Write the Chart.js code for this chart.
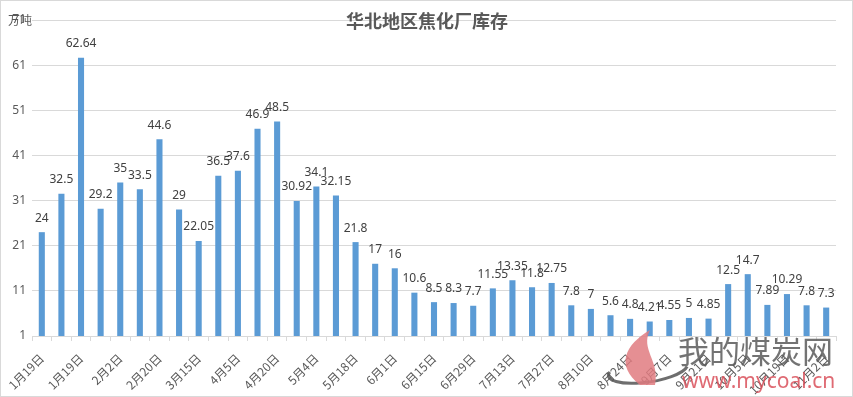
<!DOCTYPE html>
<html lang="zh-CN">
<head>
  <meta charset="UTF-8">
  <title>华北地区焦化厂库存</title>
  <script src="https://cdn.jsdelivr.net/npm/chart.js"></script>
  <style>
    body { margin: 0; background: #fff; }
    #wrap { width: 853px; height: 397px; }
  </style>
</head>
<body>
  <div id="wrap"><canvas id="chart"></canvas></div>
  <script>
    // every other bar carries a date label
    const tickLabels = ["1月19日", "1月19日", "2月2日", "2月20日", "3月15日", "4月5日", "4月20日",
      "5月4日", "5月18日", "6月1日", "6月15日", "6月29日", "7月13日", "7月27日", "8月10日",
      "8月24日", "9月7日", "9月21日", "10月5日", "10月19日", "11月2日"];
    const values = [24, 32.5, 62.64, 29.2, 35, 33.5, 44.6, 29, 22.05, 36.5, 37.6, 46.9, 48.5,
      30.92, 34.1, 32.15, 21.8, 17, 16, 10.6, 8.5, 8.3, 7.7, 11.55, 13.35, 11.8, 12.75, 7.8, 7,
      5.6, 4.8, 4.21, 4.55, 5, 4.85, 12.5, 14.7, 7.89, 10.29, 7.8, 7.3];
    const categories = values.map((v, i) => i % 2 === 0 ? tickLabels[i / 2] : "");
    const yMin = 1, yMax = 71, yStep = 10;

    const font = '"Noto Sans", "Noto Sans CJK SC", sans-serif';
    const cjk = '"Noto Sans CJK SC", sans-serif';

    const extras = {
      id: "extras",
      beforeDraw(chart) {
        const c = chart.ctx;
        c.save();
        c.fillStyle = "#fff";
        c.fillRect(0, 0, chart.width, chart.height);
        c.restore();
      },
      afterDatasetsDraw(chart) {
        const c = chart.ctx;
        const meta = chart.getDatasetMeta(0);
        c.save();
        c.fillStyle = "#404040";
        c.font = "12px " + font;
        c.textAlign = "center";
        c.textBaseline = "middle";
        meta.data.forEach((bar, i) => {
          c.fillText(String(values[i]), bar.x, bar.y - 14);
        });
        c.restore();
      },
      afterDraw(chart) {
        const c = chart.ctx;
        c.save();
        // title
        c.fillStyle = "#595959";
        c.font = "bold 18px " + cjk;
        c.textAlign = "center";
        c.textBaseline = "middle";
        c.fillText("华北地区焦化厂库存", 427, 21);
        // unit
        c.font = "12px " + cjk;
        c.textAlign = "left";
        c.fillText("万吨", 8, 20);
        // outer frame
        c.strokeStyle = "#d9d9d9";
        c.lineWidth = 1;
        c.strokeRect(0.5, 0.5, chart.width - 1, chart.height - 1);
        // watermark
        c.globalAlpha = 0.85;
        c.strokeStyle = "#555";
        c.lineWidth = 3;
        c.beginPath();
        c.ellipse(648, 370, 40, 12, -0.15, 0.2, Math.PI * 1.1);
        c.stroke();
        c.fillStyle = "#e07b80";
        c.beginPath();
        c.moveTo(640, 385);
        c.bezierCurveTo(615, 365, 625, 345, 650, 330);
        c.bezierCurveTo(640, 350, 660, 360, 655, 385);
        c.closePath();
        c.fill();
        c.fillStyle = "#5a5a5a";
        c.font = "31px " + cjk;
        c.textBaseline = "middle";
        c.fillText("我的煤炭网", 678, 351);
        c.fillStyle = "#d9505a";
        c.font = "21px " + font;
        c.fillText("www.mycoal.cn", 682, 382);
        c.restore();
      }
    };

    new Chart(document.getElementById("chart"), {
      type: "bar",
      data: {
        labels: categories,
        datasets: [{
          data: values,
          backgroundColor: "#5b9bd5",
          categoryPercentage: 1,
          barPercentage: 0.31
        }]
      },
      options: {
        responsive: true,
        maintainAspectRatio: false,
        animation: false,
        layout: { padding: { left: 0, top: 20, right: 17, bottom: 0 } },
        plugins: { legend: { display: false }, tooltip: { enabled: false } },
        scales: {
          x: {
            grid: { display: true, drawOnChartArea: false, offset: true, tickLength: 5, color: "#d9d9d9" },
            border: { color: "#d9d9d9" },
            ticks: {
              autoSkip: false, maxRotation: 45, minRotation: 45, padding: 10,
              color: "#595959", font: { size: 12, family: cjk }
            },
            afterFit: s => { s.height = 61; }
          },
          y: {
            min: yMin, max: yMax,
            grid: { color: "#d9d9d9", drawTicks: false },
            border: { display: false },
            ticks: { stepSize: yStep, padding: 6, color: "#595959", font: { size: 12, family: font } },
            afterFit: s => { s.width = 32; }
          }
        }
      },
      plugins: [extras]
    });
  </script>
</body>
</html>
